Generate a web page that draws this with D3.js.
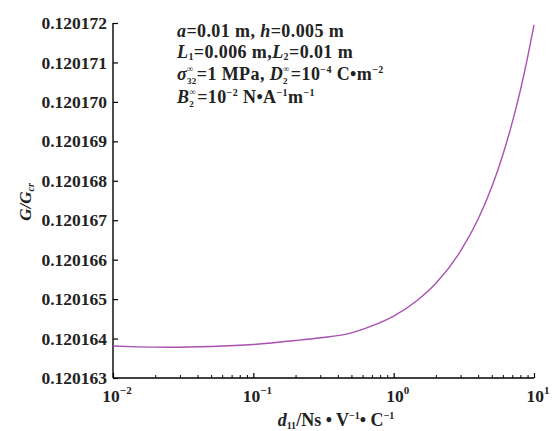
<!DOCTYPE html>
<html><head><meta charset="utf-8">
<script src="https://cdn.jsdelivr.net/npm/d3@7"></script>
<style>body{margin:0;background:#fff}svg{display:block}</style>
</head><body>
<svg id="c" width="560" height="431"></svg>
<script>
const xValues = [0.01, 0.015, 0.025, 0.05, 0.1, 0.2, 0.3, 0.47, 0.7, 1.0, 1.5, 2.0, 3.0, 4.0, 5.0, 6.0, 7.0, 8.0, 9.0, 10];
const gValues = [0.12016381, 0.12016379, 0.12016378, 0.1201638, 0.12016385, 0.12016395, 0.12016402, 0.12016412, 0.12016432, 0.12016457, 0.12016499, 0.1201654, 0.12016622, 0.12016703, 0.12016784, 0.12016866, 0.12016948, 0.1201703, 0.12017113, 0.12017195];
const yTicks = [0.120163, 0.120164, 0.120165, 0.120166, 0.120167, 0.120168, 0.120169, 0.12017, 0.120171, 0.120172];
const xTickExps = [-2, -1, 0, 1];

const svg = d3.select('#c');
const L = 113, R = 534, T = 23, B = 378;
const font = '"Liberation Serif","DejaVu Serif",serif';
const x = d3.scaleLog().domain([0.01, 10]).range([L, R]);
const y = d3.scaleLinear().domain([0.120163, 0.120172]).range([B, T]);

// Y axis
const yAxis = d3.axisLeft(y).tickValues(yTicks).tickSize(-5).tickPadding(6).tickFormat(d3.format('.6f'));
const gy = svg.append('g').attr('transform', `translate(${L},0)`).call(yAxis);
gy.select('.domain').attr('d', `M0,${T}H0V${B}`).attr('stroke', '#000').attr('stroke-width', 1.4);
gy.selectAll('.tick line').attr('stroke', '#000').attr('stroke-width', 1.2);
gy.selectAll('.tick text').attr('font-family', font).attr('font-size', 17.5).attr('font-weight', 'bold').attr('fill', '#222');

// X axis major
const majors = xTickExps.map(e => Math.pow(10, e));
const xAxis = d3.axisBottom(x).tickValues(majors).tickSize(-5).tickFormat('');
const gx = svg.append('g').attr('transform', `translate(0,${B})`).call(xAxis);
gx.select('.domain').attr('d', `M${L},0H${R}`).attr('stroke', '#000').attr('stroke-width', 1.4);
gx.selectAll('.tick line').attr('stroke', '#000').attr('stroke-width', 1.2);
// minor ticks
const minors = [];
for (let e = -2; e < 1; e++) for (let m = 2; m <= 9; m++) minors.push(m * Math.pow(10, e));
const xMinor = d3.axisBottom(x).tickValues(minors).tickSize(-3).tickFormat('');
const gxm = svg.append('g').attr('transform', `translate(0,${B})`).call(xMinor);
gxm.select('.domain').remove();
gxm.selectAll('.tick line').attr('stroke', '#000').attr('stroke-width', 1);

// X tick labels
xTickExps.forEach(e => {
  const t = svg.append('text').attr('x', x(Math.pow(10, e)) + 4).attr('y', 402)
    .attr('text-anchor', 'middle').attr('font-family', font).attr('font-size', 17.5).attr('font-weight', 'bold').attr('fill', '#222');
  t.append('tspan').text('10');
  t.append('tspan').attr('dy', -8).attr('font-size', 11).text(e < 0 ? '\u2212' + (-e) : String(e));
});

// Curve
const line = d3.line().x((d, i) => x(xValues[i])).y(d => y(d)).curve(d3.curveMonotoneX);
svg.append('path').attr('d', line(gValues)).attr('fill', 'none').attr('stroke', '#a851b0').attr('stroke-width', 1.4);

// Y label
const yl = svg.append('text').attr('transform', 'translate(31,202) rotate(-90)').attr('text-anchor', 'middle')
  .attr('font-family', font).attr('font-size', 17).attr('font-style', 'italic').attr('font-weight', 'bold').attr('fill', '#222');
yl.append('tspan').text('G/G');
yl.append('tspan').attr('font-size', 10).attr('dy', 3).text('cr');

// X label
const xl = svg.append('text').attr('x', 336).attr('y', 426).attr('text-anchor', 'middle')
  .attr('font-family', font).attr('font-size', 18).attr('font-weight', 'bold').attr('fill', '#222');
xl.append('tspan').attr('font-style', 'italic').text('d');
xl.append('tspan').attr('font-size', 10).attr('dy', 3).text('11');
xl.append('tspan').attr('dy', -3).text('/Ns \u2022 V');
xl.append('tspan').attr('font-size', 10).attr('dy', -7).text('\u22121');
xl.append('tspan').attr('dy', 7).text('\u2022 C');
xl.append('tspan').attr('font-size', 10).attr('dy', -7).text('\u22121');

// Annotation
const ax = 177;
function ann(yy) {
  return svg.append('text').attr('x', ax).attr('y', yy).attr('font-family', font).attr('font-size', 18)
    .attr('letter-spacing', 0.4).attr('font-weight', 'bold').attr('fill', '#222');
}
let t1 = ann(37);
t1.append('tspan').attr('font-style', 'italic').text('a');
t1.append('tspan').text('=0.01 m, ');
t1.append('tspan').attr('font-style', 'italic').text('h');
t1.append('tspan').text('=0.005 m');

let t2 = ann(58);
t2.append('tspan').attr('font-style', 'italic').text('L');
t2.append('tspan').attr('font-size', 10).attr('dy', 2).text('1');
t2.append('tspan').attr('dy', -2).text('=0.006 m,');
t2.append('tspan').attr('font-style', 'italic').text('L');
t2.append('tspan').attr('font-size', 10).attr('dy', 2).text('2');
t2.append('tspan').attr('dy', -2).text('=0.01 m');

let t3 = ann(80);
t3.append('tspan').attr('font-style', 'italic').text('\u03c3');
t3.append('tspan').attr('font-size', 9).attr('dy', -8).text('\u221e');
t3.append('tspan').attr('font-size', 9).attr('dx', -7).attr('dy', 12).text('32');
t3.append('tspan').attr('dy', -4).text('=1 MPa, ');
t3.append('tspan').attr('font-style', 'italic').text('D');
t3.append('tspan').attr('font-size', 9).attr('dy', -8).text('\u221e');
t3.append('tspan').attr('font-size', 9).attr('dx', -7).attr('dy', 12).text('2');
t3.append('tspan').attr('dx', 3).attr('dy', -4).text('=10');
t3.append('tspan').attr('font-size', 10).attr('dy', -7).text('\u22124');
t3.append('tspan').attr('dy', 7).text(' C\u2022m');
t3.append('tspan').attr('font-size', 10).attr('dy', -7).text('\u22122');

let t4 = ann(103);
t4.append('tspan').attr('font-style', 'italic').text('B');
t4.append('tspan').attr('font-size', 9).attr('dy', -8).text('\u221e');
t4.append('tspan').attr('font-size', 9).attr('dx', -7).attr('dy', 12).text('2');
t4.append('tspan').attr('dx', 3).attr('dy', -4).text('=10');
t4.append('tspan').attr('font-size', 10).attr('dy', -7).text('\u22122');
t4.append('tspan').attr('dy', 7).text(' N\u2022A');
t4.append('tspan').attr('font-size', 10).attr('dy', -7).text('\u22121');
t4.append('tspan').attr('dy', 7).text('m');
t4.append('tspan').attr('font-size', 10).attr('dy', -7).text('\u22121');
</script>
</body></html>
